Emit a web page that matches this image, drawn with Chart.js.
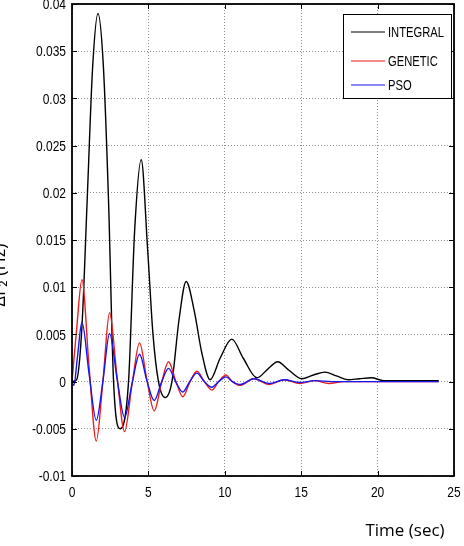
<!DOCTYPE html>
<html>
<head>
<meta charset="utf-8">
<script src="https://cdn.jsdelivr.net/npm/chart.js@4.4.1/dist/chart.umd.min.js"></script>
<style>
  html, body { margin: 0; padding: 0; background: #fff; }
  #wrap { width: 464px; height: 546px; position: relative; }
</style>
</head>
<body>
<div id="wrap"><canvas id="c" width="464" height="546"></canvas></div>
<script>
// ---- Data ----
const seriesLabels = ["INTEGRAL", "GENETIC", "PSO"];
const xTickValues = [0, 5, 10, 15, 20, 25];
const yTickValues = [-0.01, -0.005, 0, 0.005, 0.01, 0.015, 0.02, 0.025, 0.03, 0.035, 0.04];
const xTickLabels = ["0", "5", "10", "15", "20", "25"];
const yTickLabels = ["-0.01", "-0.005", "0", "0.005", "0.01", "0.015", "0.02", "0.025", "0.03", "0.035", "0.04"];

const integralT = [0, 0.3, 0.65, 1.0, 1.35, 1.7, 2.05, 2.39, 2.72, 3.16, 3.7, 4.1, 4.53, 4.95, 5.3, 5.66, 6.1, 6.54, 7.0, 7.47, 8.0, 8.5, 9.04, 9.7, 10.46, 11.2, 12.1, 12.8, 13.46, 14.2, 15.03, 15.8, 16.55, 17.3, 18.06, 18.8, 19.6, 20.4, 21.0, 24.0];
const integralV = [0, 0.0002, 0.0058, 0.0195, 0.0333, 0.039, 0.0335, 0.0192, 0, -0.005, 0, 0.016, 0.0235, 0.014, 0.005, 0, -0.0017, 0, 0.0065, 0.0106, 0.0075, 0.003, 0.0002, 0.0025, 0.0045, 0.0025, 0.0004, 0.0013, 0.0021, 0.0012, 0.0003, 0.0007, 0.001, 0.0006, 0.0002, 0.0003, 0.0004, 0.0001, 0.0001, 0.0001];

const geneticT = [0, 0.3, 0.65, 1.12, 1.59, 2.02, 2.46, 2.95, 3.44, 3.93, 4.42, 4.9, 5.38, 5.85, 6.32, 6.78, 7.25, 7.7, 8.17, 8.66, 9.15, 9.6, 10.07, 10.5, 11.0, 11.9, 12.9, 13.9, 14.9, 15.9, 16.8, 17.8, 24.0];
const geneticV = [0, 0.0055, 0.0108, 0.0015, -0.0063, 0, 0.0073, 0.0005, -0.0053, -0.0003, 0.0041, 0.0002, -0.0031, -0.0002, 0.0021, 0.0001, -0.0016, -0.0001, 0.0011, 0, -0.0009, 0, 0.0007, 0, -0.0004, 0.0003, -0.0003, 0.0002, -0.0002, 0.0001, -0.0002, 0, 0];

const psoT = [0, 0.12, 0.35, 0.65, 1.12, 1.59, 2.02, 2.46, 2.95, 3.44, 3.93, 4.42, 4.9, 5.38, 5.85, 6.32, 6.78, 7.25, 7.7, 8.17, 8.66, 9.15, 9.6, 10.07, 10.5, 11.0, 11.9, 12.9, 13.9, 14.9, 15.9, 17.0, 24.0];
const psoV = [0, -0.0004, 0.0025, 0.0063, 0.0008, -0.0041, 0, 0.0051, 0.0003, -0.0038, -0.0002, 0.0029, 0.0001, -0.002, -0.0001, 0.0014, 0, -0.0011, 0, 0.0009, 0, -0.0006, 0, 0.0005, 0, -0.0003, 0.0003, -0.0002, 0.0002, -0.0001, 0.0001, 0, 0];

const seriesColors = ["#000000", "#ee1c1c", "#1616f0"];
const xTitle = "Time (sec)";
const yTitle = "\u0394F\u2082 (Hz)";

function toPoints(ts, vs) { return ts.map((t, i) => ({ x: t, y: vs[i] })); }

const NARROW = 0.8;
const BASE_FONT = "'Liberation Sans', Arial, sans-serif";

function narrowText(ctx, text, x, y, align, size) {
  ctx.save();
  ctx.font = size + "px " + BASE_FONT;
  ctx.textAlign = align;
  ctx.textBaseline = 'middle';
  ctx.translate(x, y);
  ctx.scale(NARROW, 1);
  ctx.fillText(text, 0, 0);
  ctx.restore();
}

const framePlugin = {
  id: 'frame',
  afterDraw(chart) {
    const { ctx, chartArea: a, scales } = chart;
    ctx.save();
    // inward ticks
    ctx.strokeStyle = '#000';
    ctx.lineWidth = 1;
    ctx.beginPath();
    xTickValues.forEach(v => {
      const px = Math.round(scales.x.getPixelForValue(v)) + 0.5;
      ctx.moveTo(px, a.bottom); ctx.lineTo(px, a.bottom - 5);
      ctx.moveTo(px, a.top); ctx.lineTo(px, a.top + 5);
    });
    yTickValues.forEach(v => {
      const py = Math.round(scales.y.getPixelForValue(v)) + 0.5;
      ctx.moveTo(a.left, py); ctx.lineTo(a.left + 5, py);
      ctx.moveTo(a.right, py); ctx.lineTo(a.right - 5, py);
    });
    ctx.stroke();
    // frame
    ctx.lineWidth = 1.8;
    ctx.strokeRect(a.left, a.top, a.right - a.left, a.bottom - a.top);

    // tick labels (narrow, like the reference)
    ctx.fillStyle = '#000';
    xTickValues.forEach((v, i) => {
      narrowText(ctx, xTickLabels[i], scales.x.getPixelForValue(v), a.bottom + 17, 'center', 15);
    });
    yTickValues.forEach((v, i) => {
      narrowText(ctx, yTickLabels[i], a.left - 6, scales.y.getPixelForValue(v) + 1, 'right', 15);
    });

    // legend box
    const lx = 343.5, ly = 14.5, lw = 108, lh = 84;
    ctx.fillStyle = '#fff';
    ctx.fillRect(lx, ly, lw, lh);
    ctx.lineWidth = 1;
    ctx.strokeStyle = '#000';
    ctx.strokeRect(lx, ly, lw, lh);
    const rows = [32, 61, 85];
    chart.data.datasets.forEach((ds, i) => {
      ctx.strokeStyle = seriesColors[i];
      ctx.lineWidth = 1.2;
      ctx.beginPath();
      ctx.moveTo(351, rows[i]); ctx.lineTo(385, rows[i]);
      ctx.stroke();
      ctx.fillStyle = '#000';
      narrowText(ctx, ds.label, 388, rows[i] + 1, 'left', 14);
    });

    // axis titles
    ctx.fillStyle = '#000';
    ctx.font = "17px 'Open Sans', 'Liberation Sans', sans-serif";
    ctx.textAlign = 'center';
    ctx.textBaseline = 'middle';
    ctx.fillText(xTitle, 405, 531);
    ctx.save();
    ctx.font = "18px 'Open Sans', 'Liberation Sans', sans-serif";
    ctx.translate(5, 275);
    ctx.rotate(-Math.PI / 2);
    ctx.textBaseline = 'alphabetic';
    ctx.fillText(yTitle, 0, 0);
    ctx.restore();
    ctx.restore();
  }
};

const cfg = {
  type: 'line',
  data: {
    datasets: [
      { label: seriesLabels[0], data: toPoints(integralT, integralV), borderColor: seriesColors[0], order: 3 },
      { label: seriesLabels[1], data: toPoints(geneticT, geneticV), borderColor: seriesColors[1], order: 2 },
      { label: seriesLabels[2], data: toPoints(psoT, psoV), borderColor: seriesColors[2], order: 1 }
    ].map(d => Object.assign(d, { borderWidth: 1.4, pointRadius: 0, fill: false, cubicInterpolationMode: 'monotone' }))
  },
  options: {
    responsive: false,
    animation: false,
    devicePixelRatio: 1,
    layout: { padding: { top: 4, right: 10, left: 0, bottom: 0 } },
    plugins: { legend: { display: false }, tooltip: { enabled: false } },
    scales: {
      x: {
        type: 'linear', min: 0, max: 25,
        afterBuildTicks: s => { s.ticks = xTickValues.map(v => ({ value: v })); },
        ticks: { display: false },
        grid: { color: '#8f8f8f', lineWidth: 1, drawTicks: false },
        border: { display: false, dash: [1, 2] },
        afterFit: s => { s.height = 70; }
      },
      y: {
        type: 'linear', min: -0.01, max: 0.04,
        afterBuildTicks: s => { s.ticks = yTickValues.map(v => ({ value: v })); },
        ticks: { display: false },
        grid: { color: '#8f8f8f', lineWidth: 1, drawTicks: false },
        border: { display: false, dash: [1, 2] },
        afterFit: s => { s.width = 72; }
      }
    }
  },
  plugins: [framePlugin]
};

new Chart(document.getElementById('c'), cfg);
</script>
</body>
</html>
